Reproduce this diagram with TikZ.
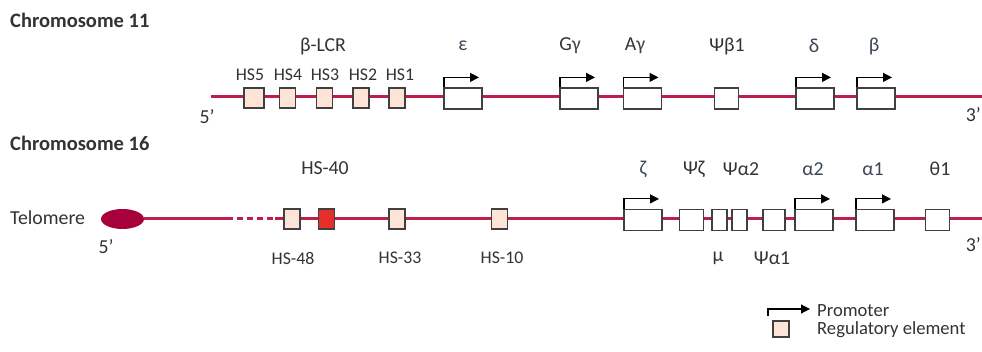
\documentclass[tikz,border=0pt]{standalone}
\usepackage{fontspec}
\setmainfont{Carlito}
\usetikzlibrary{arrows.meta,shapes.geometric}
\definecolor{dna}{HTML}{BE1E4A}
\definecolor{telo}{HTML}{A8003A}
\definecolor{regfill}{HTML}{FDE4D6}
\definecolor{hsred}{HTML}{E5302A}
\definecolor{edge}{HTML}{404040}
\definecolor{ink}{HTML}{333333}
\definecolor{glab}{HTML}{3A4556}
\tikzset{
  x=1pt, y=-1pt,
  chrom/.style={draw=dna, line width=3pt},
  regbox/.style={draw=edge, fill=regfill, line width=1.2pt, minimum width=16pt, minimum height=20pt, inner sep=0pt},
  hotbox/.style={regbox, fill=hsred},
  genebox/.style={draw=edge, fill=white, line width=1.2pt, minimum width=38pt, minimum height=21pt, inner sep=0pt},
  pseudobox/.style={genebox, minimum width=24pt},
  narrowbox/.style={genebox, minimum width=15pt},
  promoter/.style={draw=black, line width=1.2pt, -{Triangle[length=9pt,width=9pt]}},
  lab/.style={text=ink, font=\fontsize{19.8}{19.8}\selectfont, inner sep=0pt},
  hslab/.style={text=ink, font=\fontsize{17.8}{17.8}\selectfont, inner sep=0pt},
  leglab/.style={text=ink, font=\fontsize{18.6}{18.6}\selectfont, inner sep=0pt, anchor=base west},
  glabel/.style={lab, text=glab},
  title/.style={text=ink, font=\fontsize{20.5}{20.5}\selectfont\bfseries, inner sep=0pt, anchor=west},
}
\newcommand{\promo}[1]{\draw[promoter] (#1.north west) ++(0.6,0) -- ++(0,-10) -- ++(35,0);}
\begin{document}
\begin{tikzpicture}
\useasboundingbox[fill=white] (0,0) rectangle (982,352);

% ---------------- chromosome 11 ----------------
\node[title] (t11) at (10,20) {Chromosome 11};
\coordinate (c11s) at (211,97);
\coordinate (c11e) at (984,97);
\draw[chrom] (c11s) -- (c11e);
\node[lab] (p5a) at (207,117) {5’};
\node[lab, anchor=east] (p3a) at (981,115) {3’};

\node[regbox, minimum width=20pt] (hs5) at (254,98) {};
\node[regbox] (hs4) at (287.5,98) {};
\node[regbox] (hs3) at (324.5,98) {};
\node[regbox] (hs2) at (361,98) {};
\node[regbox] (hs1) at (397,98) {};
\node[hslab] (lhs5) at (250,75) {HS5};
\node[hslab] (lhs4) at (288,75) {HS4};
\node[hslab] (lhs3) at (325,75) {HS3};
\node[hslab] (lhs2) at (363,75) {HS2};
\node[hslab] (lhs1) at (400,75) {HS1};
\node[lab] (lcr) at (323,46) {β-LCR};

\node[genebox] (eps) at (463,98.5) {};
\node[genebox] (ggam) at (579,98.5) {};
\node[genebox] (agam) at (642.5,98.5) {};
\node[pseudobox] (psib) at (726.5,98.5) {};
\node[genebox] (del) at (815,98.5) {};
\node[genebox] (bet) at (876,98.5) {};
\promo{eps}
\promo{ggam}
\promo{agam}
\promo{del}
\promo{bet}
\node[glabel] (leps) at (463,46) {ε};
\node[lab] (lggam) at (570,46) {G\textcolor{glab}{γ}};
\node[lab] (lagam) at (635,46) {A\textcolor{glab}{γ}};
\node[lab] (lpsib) at (727,46) {Ψβ1};
\node[glabel] (ldel) at (814,46) {δ};
\node[glabel] (lbet) at (874,46) {β};

% ---------------- chromosome 16 ----------------
\node[title] (t16) at (10,143) {Chromosome 16};
\node[lab, anchor=west] (ltel) at (10,218) {Telomere};
\node[ellipse, fill=telo, minimum width=43pt, minimum height=20pt, inner sep=0pt] (tel) at (122.5,219) {};
\coordinate (gapa) at (227,219);
\coordinate (gapb) at (275,219);
\coordinate (c16e) at (984,219);
\draw[chrom] (tel.east) -- (gapa);
\draw[chrom, dash pattern=on 6pt off 4pt] (gapa) -- (gapb);
\draw[chrom] (gapb) -- (c16e);
\node[lab] (p5b) at (106,247) {5’};
\node[lab, anchor=east] (p3b) at (981,245) {3’};

\node[regbox] (hs48) at (292,219) {};
\node[hotbox] (hs40) at (326.5,219) {};
\node[regbox] (hs33) at (397,219) {};
\node[regbox] (hs10) at (499.5,219) {};
\node[lab] (lhs40) at (325,168) {HS-40};
\node[hslab] (lhs48) at (293,258) {HS-48};
\node[hslab] (lhs33) at (400,258) {HS-33};
\node[hslab] (lhs10) at (502,258) {HS-10};

\node[genebox] (zet) at (643,220) {};
\node[pseudobox] (psiz) at (691.5,220) {};
\node[narrowbox] (mu) at (719.5,220) {};
\node[narrowbox] (psia2) at (739.5,220) {};
\node[pseudobox, minimum width=22pt] (psia1) at (774,220) {};
\node[genebox] (alp2) at (814,220) {};
\node[genebox] (alp1) at (875,220) {};
\node[pseudobox] (the1) at (937.5,220) {};
\promo{zet}
\promo{alp2}
\promo{alp1}
\node[glabel] (lzet) at (643,169) {ζ};
\node[lab] (lpsiz) at (694,169) {Ψζ};
\node[lab] (lpsia2) at (741,169) {Ψα2};
\node[glabel] (lalp2) at (813,169) {α2};
\node[glabel] (lalp1) at (873,169) {α1};
\node[lab] (lthe1) at (940,169) {θ1};
\node[lab] (lmu) at (718,258) {μ};
\node[lab] (lpsia1) at (772,258) {Ψα1};

% ---------------- legend ----------------
\coordinate (legp) at (768,316);
\coordinate (legq) at (768,309);
\coordinate (legr) at (810,309);
\draw[promoter] (legp) -- (legq) -- (legr);
\node[regbox, minimum width=16pt, minimum height=16pt] (legbox) at (781,329) {};
\node[leglab] (lprom) at (817,317) {Promoter};
\node[leglab] (lreg) at (817,335) {Regulatory element};
\end{tikzpicture}
\end{document}
